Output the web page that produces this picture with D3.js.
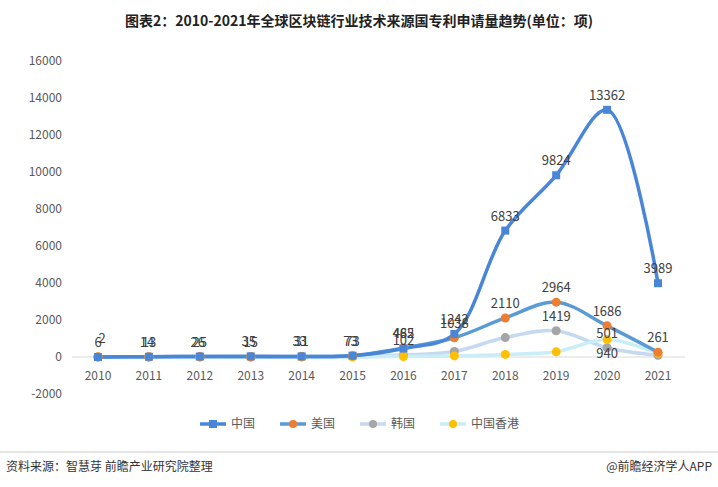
<!DOCTYPE html><html><head><meta charset="utf-8"><script src="https://cdn.jsdelivr.net/npm/d3@7"></script>
<style>body{margin:0;background:#fff}text{font-family:"Microsoft YaHei","Noto Sans CJK SC",sans-serif}</style></head><body><svg id="c" width="718" height="487"></svg>
<script>
const years=["2010","2011","2012","2013","2014","2015","2016","2017","2018","2019","2020","2021"];
const china=[2,14,26,35,33,73,462,1242,6833,9824,13362,3989];
const usa=[6,13,25,15,31,73,485,1038,2110,2964,1686,261];
const korea=[1,3,5,6,8,10,102,300,1050,1419,501,90];
const hk=[0,1,2,2,3,5,30,60,140,280,940,200];
const chinaLbl=china, usaLbl=usa;
const koreaLbl=[null,null,null,null,null,null,102,null,null,1419,501,null];
const hkLbl=[null,null,null,null,null,null,null,null,null,null,940,null];
const yTicks=[-2000,0,2000,4000,6000,8000,10000,12000,14000,16000];
const svg=d3.select("#c");
const x=d3.scalePoint().domain(years).range([98,658]);
const y=d3.scaleLinear().domain([-2000,16000]).range([394,61]);
svg.append("text").attr("x",359).attr("y",26).attr("text-anchor","middle").attr("font-size",14).attr("font-weight","bold").attr("fill","#222").text("图表2：2010-2021年全球区块链行业技术来源国专利申请量趋势(单位：项)");
svg.selectAll(".yt").data(yTicks).join("text").attr("x",62).attr("y",d=>y(d)+4).attr("text-anchor","end").attr("font-size",12).attr("fill","#595959").text(d=>d);
svg.append("line").attr("x1",72).attr("x2",685).attr("y1",y(0)).attr("y2",y(0)).attr("stroke","#d9d9d9");
svg.selectAll(".xt").data(years).join("text").attr("x",d=>x(d)).attr("y",380).attr("text-anchor","middle").attr("font-size",12).attr("fill","#595959").text(d=>d);
const series=[
 {name:"韩国",v:korea,line:"#c5d9f1",dot:"#a5a5a5",shape:"c",lbl:koreaLbl},
 {name:"中国香港",v:hk,line:"#c9eef7",dot:"#ffc000",shape:"c",lbl:hkLbl},
 {name:"美国",v:usa,line:"#5b9bd5",dot:"#ed7d31",shape:"c",lbl:usaLbl},
 {name:"中国",v:china,line:"#4a86d8",dot:"#4a86d8",shape:"s",lbl:chinaLbl}];
const ln=d3.line().x((d,i)=>x(years[i])).y(d=>y(d)).curve(d3.curveCatmullRom.alpha(0.5));
series.forEach(s=>{
 svg.append("path").attr("d",ln(s.v)).attr("fill","none").attr("stroke",s.line).attr("stroke-width",3.5);
});
series.forEach(s=>{
 const g=svg.append("g");
 s.v.forEach((d,i)=>{
  if(s.shape==="s")g.append("rect").attr("x",x(years[i])-4).attr("y",y(d)-4).attr("width",8).attr("height",8).attr("fill",s.dot);
  else g.append("circle").attr("cx",x(years[i])).attr("cy",y(d)).attr("r",4.5).attr("fill",s.dot);
 });
});
series.forEach(s=>{
 s.lbl.forEach((d,i)=>{ if(d==null)return;
  let dy=-10; if(s.name==="中国香港")dy=18; if(s.name==="中国"&&i===0){return;}
  svg.append("text").attr("x",x(years[i])+(s.name==="中国"&&i<6?-2:0)).attr("y",y(s.v[i])+dy).attr("text-anchor","middle").attr("font-size",13).attr("fill","#404040").text(d);
 });
});
svg.append("text").attr("x",x("2010")+4).attr("y",y(0)-14).attr("text-anchor","middle").attr("font-size",13).attr("fill","#404040").text(2);
const legend=[series[3],series[2],series[0],series[1]];
legend.forEach((s,i)=>{
 const lx=200+i*80,ly=424;
 svg.append("line").attr("x1",lx).attr("x2",lx+26).attr("y1",ly).attr("y2",ly).attr("stroke",s.line).attr("stroke-width",3.5);
 if(s.shape==="s")svg.append("rect").attr("x",lx+9).attr("y",ly-4).attr("width",8).attr("height",8).attr("fill",s.dot);
 else svg.append("circle").attr("cx",lx+13).attr("cy",ly).attr("r",4).attr("fill",s.dot);
 svg.append("text").attr("x",lx+31).attr("y",ly+4).attr("font-size",12).attr("fill","#595959").text(s.name);
});
svg.append("line").attr("x1",0).attr("x2",718).attr("y1",452).attr("y2",452).attr("stroke","#ccc");
svg.append("text").attr("x",6).attr("y",471).attr("font-size",12).attr("fill","#333").text("资料来源：智慧芽 前瞻产业研究院整理");
svg.append("text").attr("x",712).attr("y",471).attr("text-anchor","end").attr("font-size",12).attr("fill","#333").text("@前瞻经济学人APP");
</script></body></html>
